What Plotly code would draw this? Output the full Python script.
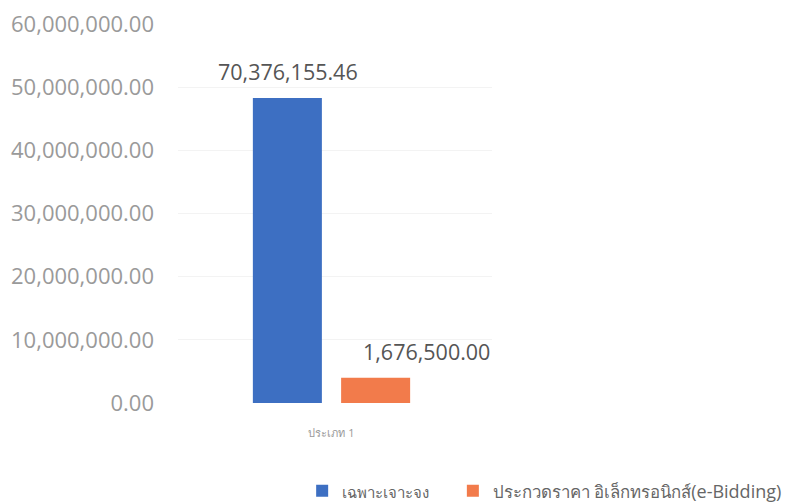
import plotly.graph_objects as go

categories = ["ประเภท 1"]
series_names = [
    "<span style='font-size:15px'>เฉพาะเจาะจง</span>\u00a0\u00a0\u00a0\u00a0",
    "<span style='font-size:16.8px'>ประกวดราคา อิเล็กทรอนิกส์</span>(e-Bidding)",
]
bar_values = [48300000, 4000000]
bar_labels = ["70,376,155.46", "1,676,500.00"]
colors = ["#3d6fc2", "#f27b4b"]
label_xshift = [0, 51]

tick_vals = [0, 10000000, 20000000, 30000000, 40000000, 50000000, 60000000]
tick_text = ["0.00", "10,000,000.00", "20,000,000.00", "30,000,000.00",
             "40,000,000.00", "50,000,000.00", "60,000,000.00"]

fig = go.Figure()
for name, val, col in zip(series_names, bar_values, colors):
    fig.add_trace(go.Bar(x=categories, y=[val], name=name, marker_color=col,
                         marker_line_width=0))

for i, (val, lab) in enumerate(zip(bar_values, bar_labels)):
    fig.add_annotation(x=categories[0], y=val, text=lab, showarrow=False,
                       xref="x", yref="y", yanchor="bottom", yshift=10,
                       xshift=(-44 if i == 0 else 44) + label_xshift[i],
                       font=dict(family="Open Sans, sans-serif", size=21.5, color="#555555"))

fig.update_layout(
    width=791, height=504,
    margin=dict(l=170, r=307, t=16, b=109, autoexpand=False),
    paper_bgcolor="white", plot_bgcolor="white",
    barmode="group", bargap=0.425, bargroupgap=0.218,
    showlegend=True,
    legend=dict(orientation="h", x=1.94, xanchor="right", y=-0.232, yanchor="middle",
                font=dict(family="Open Sans, sans-serif", size=18, color="#666666"),
                itemwidth=30, tracegroupgap=0),
    xaxis=dict(showgrid=False, showline=False, zeroline=False,
               tickfont=dict(family="Open Sans, sans-serif", size=11, color="#999999"),
               ticklabelstandoff=22),
    yaxis=dict(range=[0, 60000000], tickvals=tick_vals, ticktext=tick_text,
               showgrid=True, gridcolor="#f3f3f3", gridwidth=1,
               zeroline=False, showline=False, ticklabeloverflow="allow",
               tickfont=dict(family="Open Sans, sans-serif", size=22, color="#9a9a9a"),
               ticklabelstandoff=23),
)

fig.write_html("out.html")
